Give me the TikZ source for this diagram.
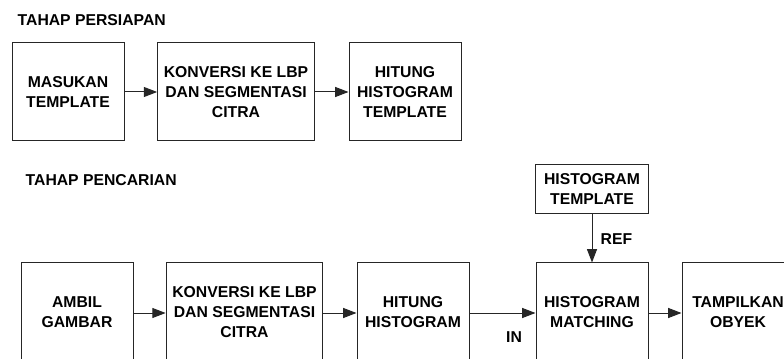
\documentclass[tikz,border=0pt]{standalone}
\usepackage{fontspec}
\setmainfont{Liberation Sans}
\usetikzlibrary{arrows.meta}
\begin{document}
\begin{tikzpicture}[x=0.75pt,y=-0.75pt,
  txt/.style={font=\fontsize{11.8pt}{15pt}\selectfont\bfseries},
  blk/.style={txt,draw=black!85,line width=0.75pt,align=center,inner sep=0pt,
    minimum width=84pt,minimum height=73.5pt},
  wide/.style={minimum width=117.5pt},
  flow/.style={draw=black!85,line width=0.75pt,-{Triangle[length=10pt,width=7.5pt]}}]
\useasboundingbox (0,0) rectangle (784,359);
\begin{scope}
\clip (0,0) rectangle (784,359);
% preparation stage
\node[txt,anchor=west] (t1) at (13,20) {TAHAP PERSIAPAN};
\node[blk] (p1) at (68,92) {MASUKAN\\TEMPLATE};
\node[blk,wide] (p2) at (236,92) {KONVERSI KE LBP\\DAN SEGMENTASI\\CITRA};
\node[blk] (p3) at (405,92) {HITUNG\\HISTOGRAM\\TEMPLATE};
\draw[flow] (p1) -- (p2);
\draw[flow] (p2) -- (p3);
% search stage
\node[txt,anchor=west] (t2) at (21,180) {TAHAP PENCARIAN};
\node[blk] (s1) at (77,312) {AMBIL\\GAMBAR};
\node[blk,wide] (s2) at (244.5,312) {KONVERSI KE LBP\\DAN SEGMENTASI\\CITRA};
\node[blk] (s3) at (413,312) {HITUNG\\HISTOGRAM};
\node[blk] (s4) at (592,312) {HISTOGRAM\\MATCHING};
\node[blk] (s5) at (738,312) {TAMPILKAN\\OBYEK};
\node[blk,minimum width=85pt,minimum height=36.75pt] (ht) at (592,189.5) {HISTOGRAM\\TEMPLATE};
\draw[flow] (s1.east |- 0,313) -- (s2.west |- 0,313);
\draw[flow] (s2.east |- 0,313) -- (s3.west |- 0,313);
\draw[flow] (s3.east |- 0,313) -- (s4.west |- 0,313);
\draw[flow] (s4.east |- 0,313) -- (s5.west |- 0,313);
\draw[flow] (ht) -- (s4);
\node[txt] (lin) at (514,337) {IN};
\node[txt,anchor=west] (lref) at (596,239) {REF};
\end{scope}
\end{tikzpicture}
\end{document}
